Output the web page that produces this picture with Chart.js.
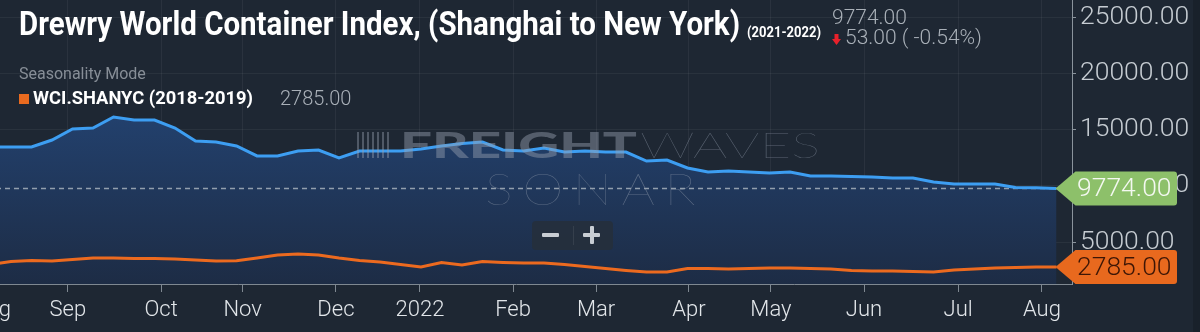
<!DOCTYPE html>
<html><head><meta charset="utf-8">
<script src="https://cdn.jsdelivr.net/npm/chart.js@4.4.1/dist/chart.umd.min.js"></script>
<style>
html,body{margin:0;padding:0;background:#1e2733;width:1200px;height:332px;overflow:hidden;}
#wrap{position:relative;width:1200px;height:332px;overflow:hidden;font-family:Roboto,"Noto Sans",sans-serif;}
#c{position:absolute;left:-40px;top:0;}
.t{position:absolute;white-space:nowrap;transform-origin:0 0;line-height:1;}
#title{left:19px;top:7px;font-size:33px;font-weight:700;color:#ffffff;}
#yrs{left:747px;top:25px;font-size:15px;font-weight:700;color:#ffffff;}
#last{left:832px;top:7px;font-size:21px;font-weight:300;color:#a9b0b8;}
#chg{left:845px;top:27px;font-size:21px;font-weight:300;color:#a9b0b8;}
#arrow{position:absolute;left:832px;top:34px;}
#mode{left:19px;top:66px;font-size:16px;font-weight:400;color:#878e97;}
#sq{position:absolute;left:19px;top:94px;width:10px;height:10px;background:#e96a1f;}
#leg{left:33px;top:89px;font-size:18px;font-weight:700;color:#ffffff;}
#legv{left:280px;top:88px;font-size:20px;font-weight:300;color:#a9b0b8;}
.wm{position:absolute;white-space:nowrap;transform-origin:0 0;line-height:1;font-family:Lato,Inter,sans-serif;}
#wm1{left:400px;top:126px;font-size:36px;font-weight:900;color:rgba(150,160,175,0.45);}
#wm2{left:640px;top:126px;font-size:36px;font-weight:100;color:rgba(150,160,175,0.5);}
#wm3{left:485px;top:166px;font-size:44px;font-weight:100;color:rgba(150,160,175,0.5);letter-spacing:8px;}
#bars{position:absolute;left:357px;top:132px;width:33px;height:26px;
  background:repeating-linear-gradient(90deg,rgba(150,160,175,0.42) 0 2px,transparent 2px 5px);}
#zoombox{position:absolute;left:532px;top:221px;width:81px;height:29px;border-radius:4px;background:rgba(37,47,60,0.93);}
#zoombox .m{position:absolute;left:10px;top:12px;width:17px;height:4px;background:#c8cdd3;border-radius:1px;}
#zoombox .sep{position:absolute;left:41px;top:5px;width:1px;height:19px;background:rgba(255,255,255,0.08);}
#zoombox .p1{position:absolute;left:51px;top:12px;width:17px;height:4px;background:#c8cdd3;border-radius:1px;}
#zoombox .p2{position:absolute;left:58px;top:5px;width:4px;height:18px;background:#c8cdd3;border-radius:1px;}
#strip{position:absolute;left:1193px;top:0;width:7px;height:332px;background:#19212b;}
</style></head>
<body>
<div id="wrap">
<canvas id="c" width="1240" height="332" style="width:1240px;height:332px"></canvas>
<div id="bars"></div>
<div class="wm" id="wm1">FREIGHT</div>
<div class="wm" id="wm2">WAVES</div>
<div class="wm" id="wm3">SONAR</div>
<div id="zoombox"><div class="m"></div><div class="sep"></div><div class="p1"></div><div class="p2"></div></div>
<div class="t" id="title">Drewry World Container Index, (Shanghai to New York)</div>
<div class="t" id="yrs">(2021-2022)</div>
<div class="t" id="last">9774.00</div>
<svg id="arrow" width="9" height="11" viewBox="0 0 9 11"><polygon points="2.5,0 6.5,0 6.5,5 9,5 4.5,11 0,5 2.5,5" fill="#e8212b"/></svg>
<div class="t" id="chg">53.00 ( -0.54%)</div>
<div class="t" id="mode">Seasonality Mode</div>
<div id="sq"></div>
<div class="t" id="leg">WCI.SHANYC (2018-2019)</div>
<div class="t" id="legv">2785.00</div>
<div id="strip"></div>
</div>
<script>
// ---- data (weekly points, index = week number) ----
const blueValues = [13460,13460,13460,14080,15060,15150,16130,15860,15860,15150,
  13990,13900,13550,12660,12660,13100,13190,12480,13100,13100,
  13100,13280,13550,13770,13900,13190,13100,13370,13010,13100,
  13010,13010,12210,12300,11590,11230,11320,11230,11140,11230,
  10880,10880,10830,10790,10700,10700,10340,10170,10170,10170,
  9850,9827,9774];
const orangeValues = [3000,3270,3360,3310,3450,3580,3580,3530,3530,3490,
  3400,3310,3340,3580,3850,3930,3850,3580,3360,3220,
  3000,2780,3180,2960,3270,3180,3130,3130,3000,2820,
  2640,2470,2330,2330,2640,2640,2600,2640,2690,2690,
  2640,2600,2470,2420,2420,2380,2330,2510,2600,2690,
  2730,2780,2785];
const monthLabels = ['Aug','Sep','Oct','Nov','Dec','2022','Feb','Mar','Apr','May','Jun','Jul','Aug'];
const monthTickWeeks = [0.07,3.77,8.32,12.30,16.85,20.95,25.49,29.54,34.07,38.07,42.61,47.20,51.29];
const yTickValues = [5000,10000,15000,20000,25000];
const xRange = [-1.488, 52.756];
const yRange = [1264, 26542];

const last = blueValues.length - 1;

function fitWidth(id, w){
  const el = document.getElementById(id);
  const cur = el.getBoundingClientRect().width;
  el.style.transform = 'scaleX(' + (w/cur) + ')';
}
fitWidth('title', 721);
fitWidth('yrs', 74);
fitWidth('leg', 220);
fitWidth('wm1', 237);
fitWidth('wm2', 180);
fitWidth('wm3', 220);

function drawTag(chart, v, bg, fg){
  const {ctx, scales:{x, y}} = chart;
  const tipX = x.getPixelForValue(last) - 1;
  const cy = y.getPixelForValue(v);
  const h = 34, bodyL = tipX + 20, right = chart.width - 23, r = 3;
  ctx.save();
  ctx.fillStyle = bg;
  ctx.beginPath();
  ctx.moveTo(tipX, cy);
  ctx.lineTo(bodyL, cy - h/2);
  ctx.lineTo(right - r, cy - h/2);
  ctx.quadraticCurveTo(right, cy - h/2, right, cy - h/2 + r);
  ctx.lineTo(right, cy + h/2 - r);
  ctx.quadraticCurveTo(right, cy + h/2, right - r, cy + h/2);
  ctx.lineTo(bodyL, cy + h/2);
  ctx.closePath();
  ctx.fill();
  ctx.fillStyle = fg;
  ctx.font = '300 26.5px Roboto';
  ctx.textBaseline = 'middle';
  ctx.textAlign = 'left';
  ctx.fillText(v.toFixed(2), bodyL + 1.5, cy + 1);
  ctx.restore();
}

const overlay = {
  id: 'overlay',
  beforeDatasetDraw(chart, args){
    if (args.index !== 1) return;
    const {ctx, chartArea, scales:{x, y}} = chart;
    const yy = y.getPixelForValue(blueValues[last]);
    const xe = x.getPixelForValue(last);
    ctx.save();
    ctx.setLineDash([5,4]);
    ctx.strokeStyle = 'rgba(175,185,195,0.8)';
    ctx.lineWidth = 1.5;
    ctx.beginPath();
    ctx.moveTo(chartArea.left, yy);
    ctx.lineTo(xe, yy);
    ctx.stroke();
    ctx.restore();
  },
  afterDraw(chart){
    drawTag(chart, blueValues[last], '#8dc06a', '#f4f8f1');
    drawTag(chart, orangeValues[last], '#e8691e', '#3d1606');
  }
};

const ctx = document.getElementById('c').getContext('2d');
new Chart(ctx, {
  type: 'line',
  data: {
    datasets: [
      {
        label: 'WCI.SHANYC (2018-2019)',
        data: orangeValues.map((v, i) => ({x: i, y: v})),
        borderColor: '#ec6a1f', borderWidth: 3, pointRadius: 0, fill: false, tension: 0
      },
      {
        label: 'WCI.SHANYC (2021-2022)',
        data: blueValues.map((v, i) => ({x: i, y: v})),
        borderColor: '#3d9ef2', borderWidth: 3, pointRadius: 0, tension: 0,
        fill: 'start',
        backgroundColor: (c) => {
          const ch = c.chart; const a = ch.chartArea;
          if (!a) return 'rgba(33,60,100,1)';
          const g = ch.ctx.createLinearGradient(0, a.top, 0, a.bottom);
          g.addColorStop(0, '#29528d');
          g.addColorStop(0.45, '#223f6a');
          g.addColorStop(1, '#1d2c45');
          return g;
        }
      }
    ]
  },
  options: {
    animation: false, responsive: false, devicePixelRatio: 1,
    layout: {padding: 0},
    plugins: {legend: {display: false}, tooltip: {enabled: false}},
    scales: {
      x: {
        type: 'linear', min: xRange[0], max: xRange[1],
        afterBuildTicks: (s) => { s.ticks = monthTickWeeks.map(v => ({value: v})); },
        ticks: {
          callback: (v, i) => monthLabels[i],
          autoSkip: false, maxRotation: 0, minRotation: 0,
          color: '#e2e6ea', font: {family: 'Roboto', size: 22, weight: 300}, padding: 5
        },
        grid: {color: 'rgba(255,255,255,0.055)', tickColor: '#7f8891', tickLength: 8},
        border: {color: '#7f8891', width: 1},
        afterFit: (s) => { s.height = 48; s.paddingLeft = 0; s.paddingRight = 0; }
      },
      y: {
        position: 'right', min: yRange[0], max: yRange[1],
        afterBuildTicks: (s) => { s.ticks = yTickValues.map(v => ({value: v})); },
        ticks: {
          callback: (v) => Number(v).toFixed(2),
          color: '#c6ccd2', font: {family: 'Roboto', size: 26.5, weight: 300}, padding: 4
        },
        grid: {color: 'rgba(255,255,255,0.05)', tickColor: '#8a939c', tickLength: 4},
        border: {color: '#8a939c', width: 1},
        afterFit: (s) => { s.width = 128; s.paddingTop = 0; s.paddingBottom = 0; }
      }
    }
  },
  plugins: [overlay]
});
</script>
</body></html>
